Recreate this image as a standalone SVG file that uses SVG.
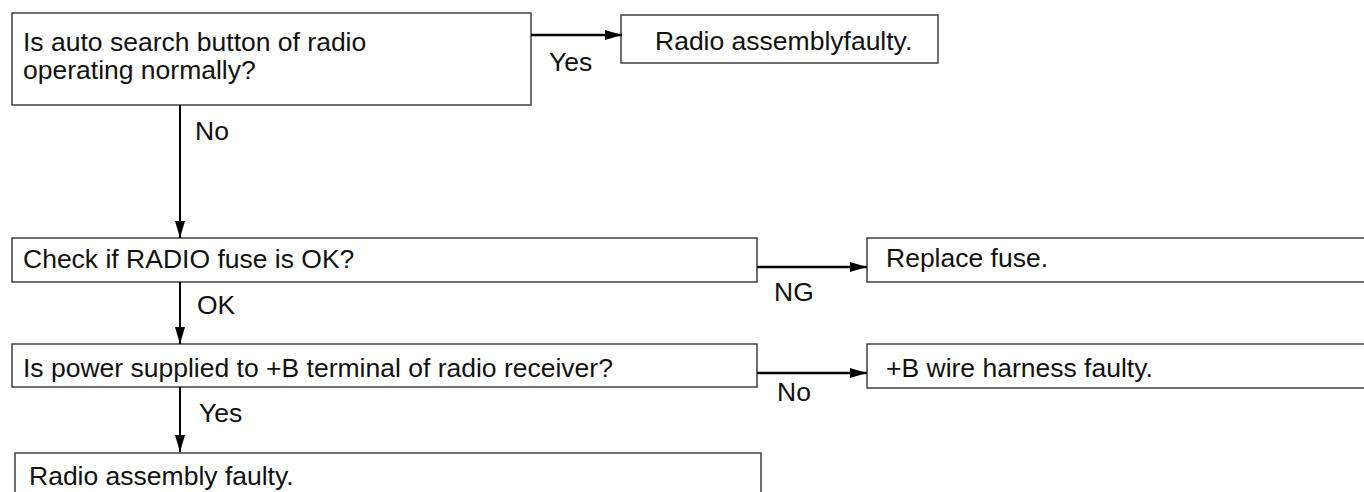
<svg xmlns="http://www.w3.org/2000/svg" width="1364" height="492" viewBox="0 0 1364 492">
<style>
.box{fill:#fff;stroke:#333;stroke-width:1.4}
.t{font-family:"Liberation Sans",Arial,sans-serif;font-size:26.5px;fill:#111}
.c{stroke:#000;fill:none}
.h{stroke-width:2.6}
.v{stroke-width:2}
</style>
<defs>
<marker id="ah" markerUnits="userSpaceOnUse" markerWidth="18" markerHeight="11" refX="17" refY="5" orient="auto">
<path d="M0,0 L17,5 L0,10 z" fill="#000"/>
</marker>
</defs>
<rect width="1364" height="492" fill="#fff"/>
<g id="n1"><rect class="box" x="12" y="13" width="519" height="92"/><text class="t" x="23" y="51">Is auto search button of radio</text><text class="t" x="23" y="79">operating normally?</text></g>
<g id="n2"><rect class="box" x="621" y="15" width="317" height="48"/><text class="t" x="655" y="50">Radio assemblyfaulty.</text></g>
<g id="n3"><rect class="box" x="12" y="238" width="745" height="44"/><text class="t" x="23" y="268">Check if RADIO fuse is OK?</text></g>
<g id="n4"><rect class="box" x="867" y="238" width="510" height="44"/><text class="t" x="886" y="267">Replace fuse.</text></g>
<g id="n5"><rect class="box" x="12" y="344" width="745" height="43"/><text class="t" x="23" y="377">Is power supplied to +B terminal of radio receiver?</text></g>
<g id="n6"><rect class="box" x="867" y="344" width="510" height="44"/><text class="t" x="886" y="377">+B wire harness faulty.</text></g>
<g id="n7"><rect class="box" x="15" y="453" width="746" height="60"/><text class="t" x="29" y="485">Radio assembly faulty.</text></g>
<g id="connectors">
<path class="c h" d="M531,35 H622" marker-end="url(#ah)"/>
<text class="t" x="549" y="71">Yes</text>
<path class="c v" d="M180,105 V238" marker-end="url(#ah)"/>
<text class="t" x="195" y="140">No</text>
<path class="c h" d="M757,267 H867" marker-end="url(#ah)"/>
<text class="t" x="774" y="301">NG</text>
<path class="c v" d="M180,282 V344" marker-end="url(#ah)"/>
<text class="t" x="197" y="314">OK</text>
<path class="c h" d="M757,373 H867" marker-end="url(#ah)"/>
<text class="t" x="777" y="401">No</text>
<path class="c v" d="M180,387 V452" marker-end="url(#ah)"/>
<text class="t" x="199" y="422">Yes</text>
</g>
</svg>
